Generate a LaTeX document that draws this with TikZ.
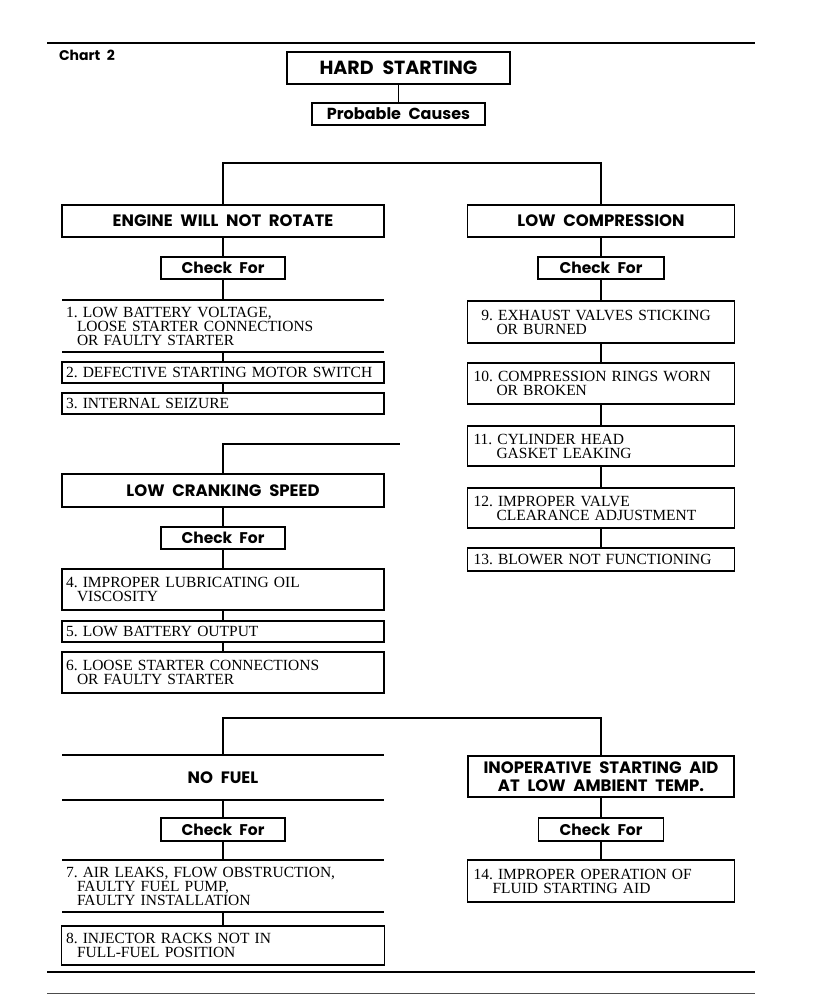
\documentclass[tikz,border=0pt]{standalone}
\usepackage{fontspec}
\setmainfont{Liberation Serif}
\newfontfamily\hfont{Poppins}[WordSpace=2.2]
\frenchspacing
\begin{document}
\begin{tikzpicture}[x=1pt,y=-1pt,
  every node/.style={inner sep=0pt, outer sep=0pt},
  hfnt/.style={font=\hfont\bfseries\fontsize{16.5}{18}\selectfont},
  head/.style={draw, line width=1.4pt, hfnt, align=center},
  chk/.style={draw, line width=1.6pt, minimum width=124pt, minimum height=22pt, font=\hfont\bfseries\fontsize{15.5}{17}\selectfont},
  itxt/.style={font=\fontsize{15.5}{14}\selectfont, align=left},
  lbox/.style={itxt, draw, line width=1.1pt, minimum width=322pt, inner xsep=4pt, text width=314pt},
  lopen/.style={itxt, minimum width=322pt, inner xsep=4pt, text width=314pt},
  rbox/.style={itxt, draw, line width=1.1pt, minimum width=267pt, inner xsep=6pt, text width=255pt},
  conn/.style={line width=1.2pt},
  rule/.style={line width=1.6pt}]
\fill[white] (0,0) rectangle (816,996);
\useasboundingbox (0,0) rectangle (816,996);

% rules
\draw[rule] (47,43) -- (755,43);
\draw[rule] (47,972) -- (755,972);
\draw[line width=1pt, black!70] (47,993) -- (755,993);

\node[anchor=west, font=\hfont\bfseries\fontsize{14}{16}\selectfont] (chart) at (59,55) {Chart 2};

\node[head, line width=2pt, minimum width=223pt, minimum height=32pt, font=\hfont\bfseries\fontsize{19}{21}\selectfont] (hard) at (398.5,68) {HARD STARTING};
\node[head, line width=1.6pt, minimum width=173pt, minimum height=22pt, font=\hfont\bfseries\fontsize{16}{18}\selectfont] (prob) at (398.5,114) {Probable Causes};
\draw[conn] (hard) -- (prob);

% left column
\node[head, minimum width=322pt, minimum height=32pt] (engine) at (223,221) {ENGINE WILL NOT ROTATE};
\node[chk] (chk1) at (223,268) {Check For};
\node[lopen, minimum height=52pt] (item1) at (223,326) {1. LOW BATTERY VOLTAGE,\\\hspace*{11pt}LOOSE STARTER CONNECTIONS\\\hspace*{11pt}OR FAULTY STARTER};
\node[lbox, minimum height=21pt] (item2) at (223,372.5) {2. DEFECTIVE STARTING MOTOR SWITCH};
\node[lbox, minimum height=21pt] (item3) at (223,403.5) {3. INTERNAL SEIZURE};

\node[head, minimum width=322pt, minimum height=33pt] (crank) at (223,490.5) {LOW CRANKING SPEED};
\node[chk] (chk2) at (223,538) {Check For};
\node[lbox, minimum height=41pt] (item4) at (223,589.5) {4. IMPROPER LUBRICATING OIL\\\hspace*{11pt}VISCOSITY};
\node[lbox, minimum height=21pt] (item5) at (223,631.5) {5. LOW BATTERY OUTPUT};
\node[lbox, minimum height=41pt] (item6) at (223,672.5) {6. LOOSE STARTER CONNECTIONS\\\hspace*{11pt}OR FAULTY STARTER};

\node[hfnt, minimum width=322pt, minimum height=45pt] (nofuel) at (223,777.5) {NO FUEL};
\node[chk, minimum height=23pt] (chk3) at (223,829.5) {Check For};
\node[lopen, minimum height=52pt] (item7) at (223,886) {7. AIR LEAKS, FLOW OBSTRUCTION,\\\hspace*{11pt}FAULTY FUEL PUMP,\\\hspace*{11pt}FAULTY INSTALLATION};
\node[lbox, minimum width=323pt, minimum height=39pt] (item8) at (223,945.5) {8. INJECTOR RACKS NOT IN\\\hspace*{11pt}FULL-FUEL POSITION};

% right column
\node[head, minimum width=267pt, minimum height=32pt] (lowcomp) at (601,221) {LOW COMPRESSION};
\node[chk, minimum width=126pt] (chk4) at (601,268) {Check For};
\node[rbox, minimum height=42pt] (item9) at (601,322) {\phantom{1}9. EXHAUST VALVES STICKING\\\hspace*{23pt}OR BURNED};
\node[rbox, minimum height=41pt] (item10) at (601,383.5) {10. COMPRESSION RINGS WORN\\\hspace*{23pt}OR BROKEN};
\node[rbox, minimum height=40pt] (item11) at (601,446) {11. CYLINDER HEAD\\\hspace*{23pt}GASKET LEAKING};
\node[rbox, minimum height=40pt] (item12) at (601,508) {12. IMPROPER VALVE\\\hspace*{23pt}CLEARANCE ADJUSTMENT};
\node[rbox, minimum height=23pt] (item13) at (601,559.5) {13. BLOWER NOT FUNCTIONING};

\node[head, minimum width=266pt, minimum height=41pt] (inop) at (601,776.5) {INOPERATIVE STARTING AID\\AT LOW AMBIENT TEMP.};
\node[chk, minimum width=125pt, minimum height=23pt] (chk5) at (601,829.5) {Check For};
\node[rbox, minimum height=42pt] (item14) at (601,881) {14. IMPROPER OPERATION OF\\\hspace*{19pt}FLUID STARTING AID};

% open boxes: top and bottom lines
\foreach \n in {item1,item7,nofuel}{
  \draw[conn] (\n.north west) -- (\n.north east);
  \draw[conn] (\n.south west) -- (\n.south east);
}

% connectors
\coordinate (topbar) at (400,163);
\coordinate (midbar) at (400,444);
\coordinate (botbar) at (400,718);
\draw[conn] (engine.north) |- (topbar) -| (lowcomp.north);
\draw[conn] (crank.north) |- (midbar);
\draw[conn] (nofuel.north) |- (botbar) -| (inop.north);

\foreach \a/\b in {engine/chk1,chk1/item1,item1/item2,item2/item3,
  crank/chk2,chk2/item4,item4/item5,item5/item6,
  nofuel/chk3,chk3/item7,item7/item8,
  lowcomp/chk4,chk4/item9,item9/item10,item10/item11,item11/item12,item12/item13,
  inop/chk5,chk5/item14}{
  \draw[conn] (\a.south) -- (\b.north);
}
\end{tikzpicture}
\end{document}
